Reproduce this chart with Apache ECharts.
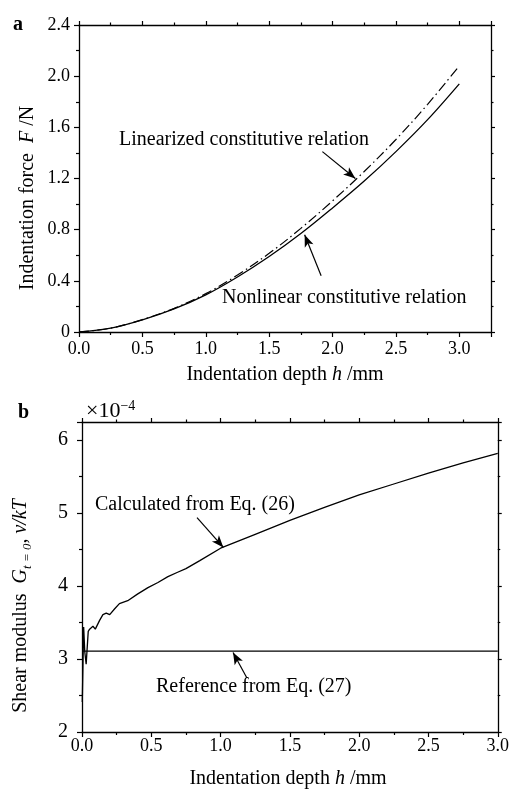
<!DOCTYPE html>
<html>
<head>
<meta charset="utf-8">
<script src="https://cdn.jsdelivr.net/npm/echarts@6/dist/echarts.min.js"></script>
<style>
  html, body { margin: 0; padding: 0; background: #fff; }
  #chart { width: 512px; height: 789px; }
</style>
</head>
<body>
<div id="chart"></div>
<script>
// Panel a: indentation force versus depth
const depthA = [0, 0.25, 0.5, 0.75, 1.0, 1.25, 1.5, 1.75, 2.0, 2.25, 2.5, 2.75, 3.0];
const forceNonlinear = [0, 0.03, 0.095, 0.18, 0.29, 0.43, 0.59, 0.77, 0.97, 1.18, 1.41, 1.66, 1.94];
const forceLinearized = [0, 0.03, 0.097, 0.185, 0.30, 0.445, 0.615, 0.81, 1.025, 1.255, 1.505, 1.78, 2.08];

// Panel b: shear modulus versus depth
const calcDepth = [0.002, 0.012, 0.02, 0.03, 0.045, 0.055, 0.079, 0.096, 0.127, 0.151, 0.175, 0.2, 0.236,
  0.27, 0.33, 0.40, 0.476, 0.548, 0.62, 0.69, 0.75, 0.85, 1.0, 1.25, 1.5, 1.75, 2.0, 2.25, 2.5, 2.75, 3.0];
const calcModulus = [2.41, 3.44, 3.10, 2.93, 3.38, 3.41, 3.45, 3.41, 3.53, 3.61, 3.63, 3.61, 3.69,
  3.76, 3.80, 3.89, 3.98, 4.05, 4.13, 4.19, 4.24, 4.35, 4.52, 4.71, 4.90, 5.08, 5.25, 5.40, 5.55, 5.69, 5.82];
const refDepth = [0, 3.0];
const refModulus = [3.11, 3.11];

// Annotation arrows, in data units: [fromX, fromY, toX, toY]
const arrowLinearized = [1.92, 1.41, 2.18, 1.20];
const arrowNonlinear = [1.91, 0.44, 1.78, 0.76];
const arrowCalculated = [0.83, 4.94, 1.02, 4.53];
const arrowReference = [1.19, 2.74, 1.09, 3.09];

const FONT = '"Liberation Serif", "DejaVu Serif", serif';
const zip = (xs, ys) => xs.map((x, i) => [x, ys[i]]);

function arrowLine(a) {
  return {
    silent: true,
    symbol: ['none', 'arrow'],
    symbolSize: [7, 12],
    label: { show: false },
    lineStyle: { color: '#000', width: 1.2, type: 'solid' },
    data: [[{ coord: [a[0], a[1]] }, { coord: [a[2], a[3]] }]]
  };
}

function mainAxis(extra) {
  return Object.assign({
    type: 'value',
    axisLine: { show: true, onZero: false, lineStyle: { color: '#000', width: 1.3 } },
    axisTick: { show: true, inside: false, length: 5, lineStyle: { color: '#000', width: 1.2 } },
    minorTick: { show: true, splitNumber: 2, length: 3, lineStyle: { color: '#000', width: 1.2 } },
    splitLine: { show: false },
    axisLabel: { color: '#000', fontFamily: FONT, fontSize: 18 }
  }, extra);
}
function mirrorAxis(extra) {
  return mainAxis(Object.assign({
    axisLabel: { show: false },
    axisTick: { show: true, inside: false, length: 4, lineStyle: { color: '#000', width: 1.2 } },
    minorTick: { show: true, splitNumber: 2, length: 2.5, lineStyle: { color: '#000', width: 1.2 } }
  }, extra));
}

const fmt1 = v => v.toFixed(1);

const option = {
  animation: false,
  backgroundColor: '#fff',
  grid: [
    { left: 79, top: 25, right: 21, bottom: 457 },
    { left: 82, top: 422, right: 14, bottom: 57 }
  ],
  xAxis: [
    mainAxis({ gridIndex: 0, position: 'bottom', min: 0, max: 3.25, interval: 0.5,
      axisLabel: { color: '#000', fontFamily: FONT, fontSize: 18, margin: 8, formatter: fmt1, showMaxLabel: false } }),
    mirrorAxis({ gridIndex: 0, position: 'top', min: 0, max: 3.25, interval: 0.5 }),
    mainAxis({ gridIndex: 1, position: 'bottom', min: 0, max: 3.0, interval: 0.5,
      axisLabel: { color: '#000', fontFamily: FONT, fontSize: 18, margin: 5, formatter: fmt1 } }),
    mirrorAxis({ gridIndex: 1, position: 'top', min: 0, max: 3.0, interval: 0.5 })
  ],
  yAxis: [
    mainAxis({ gridIndex: 0, position: 'left', min: 0, max: 2.4, interval: 0.4,
      axisLabel: { color: '#000', fontFamily: FONT, fontSize: 18, margin: 9,
        formatter: v => (v === 0 ? '0' : v.toFixed(1)) } }),
    mirrorAxis({ gridIndex: 0, position: 'right', min: 0, max: 2.4, interval: 0.4 }),
    mainAxis({ gridIndex: 1, position: 'left', min: 2, max: 6.25, interval: 1,
      axisLabel: { color: '#000', fontFamily: FONT, fontSize: 20, margin: 14, showMaxLabel: false,
        formatter: v => String(Math.round(v)) } }),
    mirrorAxis({ gridIndex: 1, position: 'right', min: 2, max: 6.25, interval: 1 })
  ],
  series: [
    {
      name: 'Nonlinear constitutive relation', type: 'line', xAxisIndex: 0, yAxisIndex: 0,
      data: zip(depthA, forceNonlinear), smooth: 0.35, showSymbol: false,
      lineStyle: { color: '#000', width: 1.3 },
      markLine: arrowLine(arrowNonlinear)
    },
    {
      name: 'Linearized constitutive relation', type: 'line', xAxisIndex: 0, yAxisIndex: 0,
      data: zip(depthA, forceLinearized), smooth: 0.35, showSymbol: false,
      lineStyle: { color: '#000', width: 1.2, type: [10, 3.5, 1.5, 3.5] },
      markLine: arrowLine(arrowLinearized)
    },
    {
      name: 'Calculated from Eq. (26)', type: 'line', xAxisIndex: 2, yAxisIndex: 2,
      data: zip(calcDepth, calcModulus), showSymbol: false,
      lineStyle: { color: '#000', width: 1.3 },
      markLine: arrowLine(arrowCalculated)
    },
    {
      name: 'Reference from Eq. (27)', type: 'line', xAxisIndex: 2, yAxisIndex: 2,
      data: zip(refDepth, refModulus), showSymbol: false,
      lineStyle: { color: '#000', width: 1.3 },
      markLine: arrowLine(arrowReference)
    }
  ],
  graphic: [
    // panel letters
    { type: 'text', x: 13, y: 25, style: { text: 'a', font: 'bold 20px ' + FONT, fill: '#000', verticalAlign: 'middle' } },
    { type: 'text', x: 18, y: 413, style: { text: 'b', font: 'bold 20px ' + FONT, fill: '#000', verticalAlign: 'middle' } },
    // exponent of panel b
    { type: 'text', x: 86, y: 411, style: {
        text: '{m|×10}{s|−4}', fill: '#000', verticalAlign: 'middle',
        rich: {
          m: { fontFamily: FONT, fontSize: 22, lineHeight: 24, fill: '#000' },
          s: { fontFamily: FONT, fontSize: 14, lineHeight: 24, verticalAlign: 'top', fill: '#000' }
        } } },
    // axis titles, panel a
    { type: 'text', x: 285, y: 375, style: {
        text: '{n|Indentation depth }{i|h}{n| /mm}', align: 'center', verticalAlign: 'middle',
        rich: { n: { fontFamily: FONT, fontSize: 20, fill: '#000' }, i: { fontFamily: FONT, fontSize: 20, fontStyle: 'italic', fill: '#000' } } } },
    { type: 'text', x: 28, y: 198, rotation: Math.PI / 2, style: {
        text: '{n|Indentation force  }{i|F}{n| /N}', align: 'center', verticalAlign: 'middle',
        rich: { n: { fontFamily: FONT, fontSize: 20, fill: '#000' }, i: { fontFamily: FONT, fontSize: 20, fontStyle: 'italic', fill: '#000' } } } },
    // axis titles, panel b
    { type: 'text', x: 288, y: 779, style: {
        text: '{n|Indentation depth }{i|h}{n| /mm}', align: 'center', verticalAlign: 'middle',
        rich: { n: { fontFamily: FONT, fontSize: 20, fill: '#000' }, i: { fontFamily: FONT, fontSize: 20, fontStyle: 'italic', fill: '#000' } } } },
    { type: 'text', x: 21, y: 606, rotation: Math.PI / 2, style: {
        text: '{n|Shear modulus  }{i|G}{s|t = 0}{i|, v/kT}', align: 'center', verticalAlign: 'middle',
        rich: {
          n: { fontFamily: FONT, fontSize: 20, lineHeight: 26, fill: '#000' },
          i: { fontFamily: FONT, fontSize: 20, lineHeight: 26, fontStyle: 'italic', fill: '#000' },
          s: { fontFamily: FONT, fontSize: 13, lineHeight: 26, fontStyle: 'italic', verticalAlign: 'bottom', fill: '#000' }
        } } },
    // curve annotations
    { type: 'text', x: 119, y: 140, style: { text: 'Linearized constitutive relation', fontFamily: FONT, fontSize: 20, fill: '#000', verticalAlign: 'middle' } },
    { type: 'text', x: 222, y: 298, style: { text: 'Nonlinear constitutive relation', fontFamily: FONT, fontSize: 20, fill: '#000', verticalAlign: 'middle' } },
    { type: 'text', x: 95, y: 505, style: { text: 'Calculated from Eq. (26)', fontFamily: FONT, fontSize: 20, fill: '#000', verticalAlign: 'middle' } },
    { type: 'text', x: 156, y: 687, style: { text: 'Reference from Eq. (27)', fontFamily: FONT, fontSize: 20, fill: '#000', verticalAlign: 'middle' } }
  ]
};

const chart = echarts.init(document.getElementById('chart'), null, { renderer: 'canvas' });
chart.setOption(option);
</script>
</body>
</html>
